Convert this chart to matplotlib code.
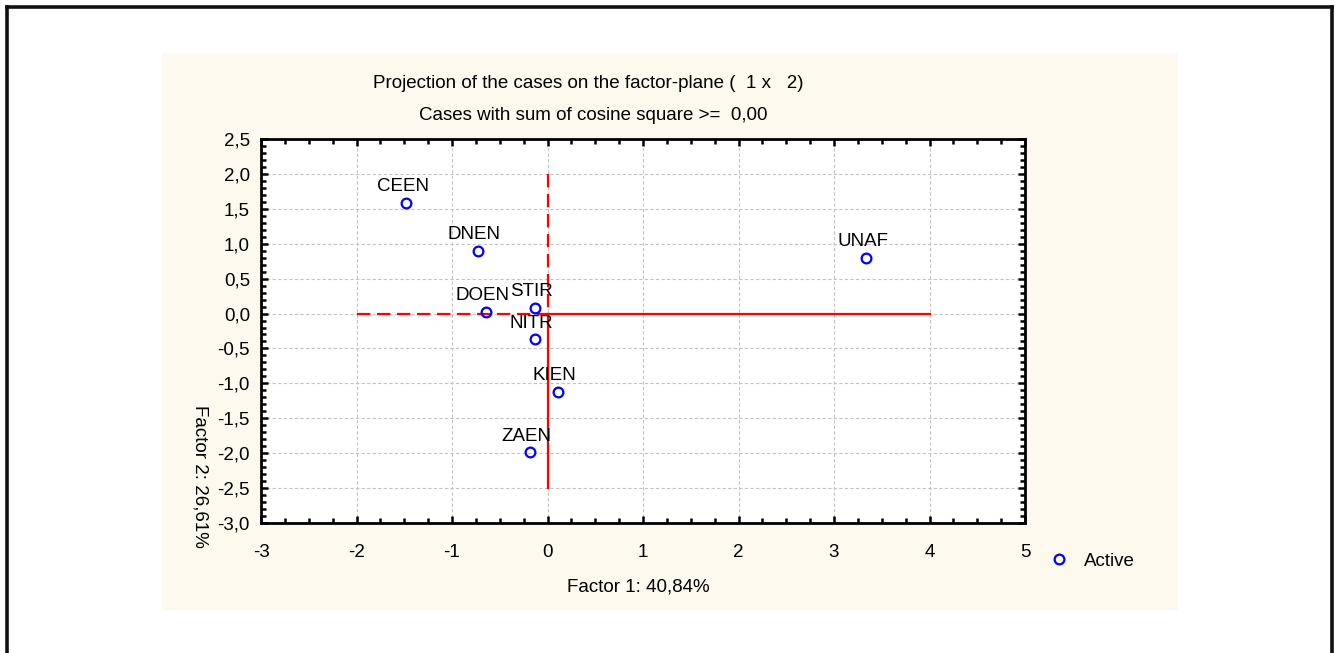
import matplotlib
matplotlib.use("Agg")
import matplotlib.pyplot as plt
from matplotlib.lines import Line2D
from matplotlib.patches import Rectangle
from matplotlib.ticker import MultipleLocator, FuncFormatter

# Case coordinates on the first factor plane
cases = ["CEEN", "DNEN", "DOEN", "STIR", "NITR", "KIEN", "ZAEN", "UNAF"]
factor1 = [-1.48, -0.73, -0.64, -0.13, -0.13, 0.11, -0.18, 3.34]
factor2 = [1.58, 0.90, 0.02, 0.08, -0.37, -1.12, -1.99, 0.80]

title_lines = ["Projection of the cases on the factor-plane (  1 x   2)",
               "Cases with sum of cosine square >=  0,00"]
xlabel = "Factor 1: 40,84%"
ylabel = "Factor 2: 26,61%"
legend_label = "Active"

plt.rcParams["font.family"] = ["Liberation Sans", "DejaVu Sans"]
FS = 13.5

W, H = 1335, 653
fig = plt.figure(figsize=(W / 100, H / 100), dpi=100)
fig.patch.set_facecolor("white")

# cream panel behind the chart
fig.patches.append(Rectangle((162 / W, 1 - 610 / H), (1178 - 162) / W, (610 - 53) / H,
                             transform=fig.transFigure, facecolor="#fdf9ee",
                             edgecolor="none", zorder=-5))

# outer frame
frame_kw = dict(transform=fig.transFigure, color="#111111", linewidth=2.6, zorder=-4)
fig.lines.append(Line2D([7 / W, 7 / W], [0, 1 - 7 / H], **frame_kw))
fig.lines.append(Line2D([7 / W, 1332 / W], [1 - 7 / H, 1 - 7 / H], **frame_kw))
fig.lines.append(Line2D([1332 / W, 1332 / W], [0, 1 - 7 / H], **frame_kw))

ax = fig.add_axes([261 / W, 1 - 523 / H, (1025 - 261) / W, (523 - 139) / H])
ax.set_zorder(2)
ax.set_facecolor("white")
ax.set_xlim(-3, 5)
ax.set_ylim(-3.0, 2.5)

ax.xaxis.set_major_locator(MultipleLocator(1))
ax.xaxis.set_minor_locator(MultipleLocator(0.25))
ax.yaxis.set_major_locator(MultipleLocator(0.5))
ax.yaxis.set_minor_locator(MultipleLocator(0.1))
ax.yaxis.set_major_formatter(FuncFormatter(lambda v, p: f"{v:.1f}".replace(".", ",").replace("-0,0", "0,0")))
ax.xaxis.set_major_formatter(FuncFormatter(lambda v, p: f"{v:.0f}"))

ax.grid(True, which="major", color="#c4c4c4", linestyle=(0, (3, 2)), linewidth=0.8)
ax.set_axisbelow(True)

for s in ax.spines.values():
    s.set_linewidth(2.0)
    s.set_color("black")
ax.tick_params(which="both", direction="in", top=True, right=True, width=1.8, color="black")
ax.tick_params(which="major", length=5)
ax.tick_params(which="minor", length=3.5)
ax.tick_params(axis="x", which="major", pad=15, labelsize=FS)
ax.tick_params(axis="y", which="major", pad=8, labelsize=FS)

# reference axes through the origin
red_kw = dict(color="#ff0000", linewidth=1.6, zorder=2)
ax.plot([-2, 0], [0, 0], linestyle=(0, (6, 3)), **red_kw)
ax.plot([0, 4], [0, 0], linestyle="-", **red_kw)
ax.plot([0, 0], [2, 0], linestyle=(0, (6, 3)), **red_kw)
ax.plot([0, 0], [0, -2.5], linestyle="-", **red_kw)

ax.plot(factor1, factor2, linestyle="none", marker="o", markersize=7,
        markerfacecolor="none", markeredgecolor="#0000ff", markeredgewidth=1.6,
        label=legend_label, zorder=3)

for name, x, y in zip(cases, factor1, factor2):
    ax.annotate(name, (x, y), xytext=(-2.5, 8.5), textcoords="offset points",
                ha="center", va="baseline", fontsize=FS, zorder=4)

fig.text(588 / W, 1 - 83 / H, title_lines[0], ha="center", va="center", fontsize=FS)
fig.text(593 / W, 1 - 115 / H, title_lines[1], ha="center", va="center", fontsize=FS)
fig.text(638 / W, 1 - 587 / H, xlabel, ha="center", va="center", fontsize=FS)
fig.text(200 / W, 1 - 476 / H, ylabel, ha="center", va="center", rotation=270, fontsize=FS)

fig.legend(loc="center left", bbox_to_anchor=(1048 / W, 1 - 561 / H), frameon=False,
           fontsize=FS, handletextpad=0.7, handlelength=1.2, borderpad=0, borderaxespad=0)

fig.savefig("out.png", dpi=100, facecolor="white")
